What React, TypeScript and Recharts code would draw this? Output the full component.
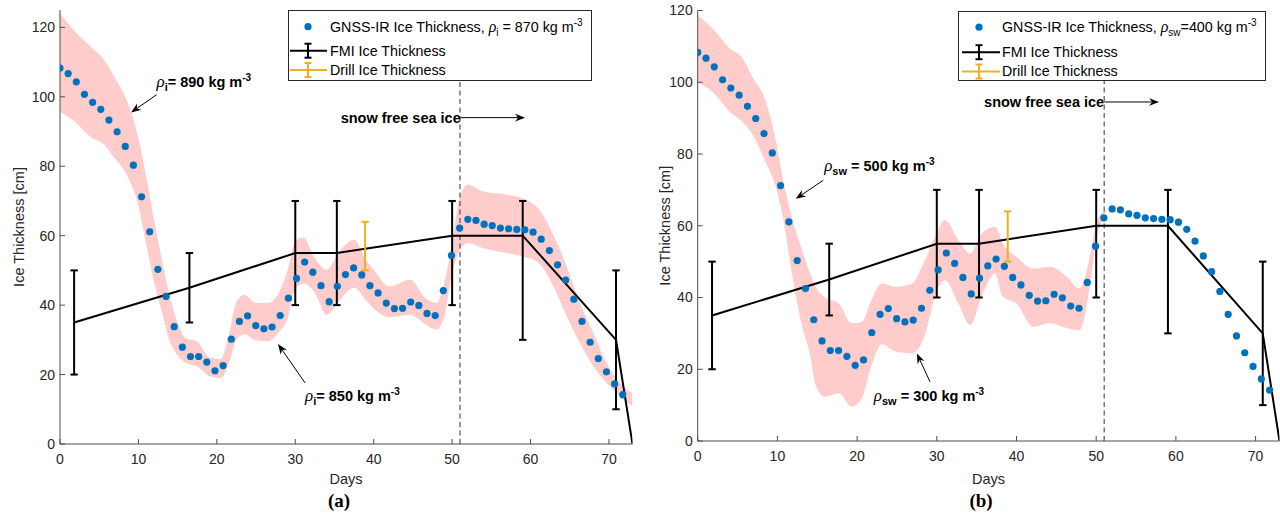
import React from 'react';
import {
  ComposedChart,
  Area,
  Line,
  Scatter,
  XAxis,
  YAxis,
  ErrorBar,
  ReferenceLine,
  ReferenceDot,
} from 'recharts';

const SANS = '"Liberation Sans", Arial, Helvetica, sans-serif';
const SERIF = '"Liberation Serif", "Times New Roman", serif';
const BLUE = '#0072BD';
const ORANGE = '#EDB120';
const PINK = '#FFCCCC';
const AXIS = '#4d4d4d';
const TICK = '#262626';

// axis ticks
const dayTicks = [0, 10, 20, 30, 40, 50, 60, 70];
const thicknessTicks = [0, 20, 40, 60, 80, 100, 120];

// GNSS-IR ice thickness (same retrieval in both panels)
const gnssDays = [
  0, 1.04, 2.08, 3.12, 4.16, 5.2, 6.24, 7.28, 8.32, 9.36,
  10.4, 11.44, 12.48, 13.52, 14.56, 15.6, 16.64, 17.68, 18.72, 19.76,
  20.8, 21.84, 22.88, 23.92, 24.96, 26, 27.04, 28.08, 29.12, 30.16,
  31.2, 32.24, 33.28, 34.32, 35.36, 36.4, 37.44, 38.48, 39.52, 40.56,
  41.6, 42.64, 43.68, 44.72, 45.76, 46.8, 47.84, 48.88, 49.92, 50.96,
  52, 53.04, 54.08, 55.12, 56.16, 57.2, 58.24, 59.28, 60.32, 61.36,
  62.4, 63.44, 64.48, 65.52, 66.56, 67.6, 68.64, 69.68, 70.72, 71.76,
];
const gnssThickness = [
  108.3, 106.7, 104.3, 100.7, 98.4, 96.4, 93.3, 89.9, 85.7, 80.3,
  71.2, 61.1, 50.3, 42.5, 33.8, 27.9, 25.2, 25.2, 23.6, 21.1,
  22.6, 30.2, 35.3, 36.9, 34.1, 33.2, 33.7, 37.0, 42.0, 47.7,
  52.4, 49.5, 45.6, 41.0, 45.4, 48.8, 50.7, 48.7, 45.6, 43.5,
  40.6, 39.0, 39.1, 40.9, 39.9, 37.6, 37.0, 44.2, 54.3, 62.2,
  64.7, 64.4, 63.3, 62.9, 62.2, 62.0, 61.8, 61.7, 61.0, 59.0,
  55.7, 51.6, 47.2, 41.7, 35.3, 29.3, 24.6, 20.8, 17.3, 14.2,
];

// FMI ice thickness with (below, above) errors
const fmiDays = [1.8, 16.5, 30, 35.3, 50, 59, 70.9, 73];
const fmiThickness = [35, 45, 55, 55, 60, 60, 30, 0];
const fmiErrBelow = [15, 10, 15, 15, 20, 30, 20, null];
const fmiErrAbove = [15, 10, 15, 15, 10, 10, 20, null];

// drill hole
const drillDays = [38.9];
const drillThickness = [57];
const drillErr = [7];

// (a) ice density range 850 - 890 kg m-3
const iceBandDays = [
  0, 2, 4, 5.5, 7, 8.5, 10, 11, 12, 13,
  14, 15, 16, 17.5, 19, 20.5, 21.5, 22.5, 23.5, 25,
  26.5, 28, 29, 30, 31, 32.5, 34, 35.5, 37.5, 39,
  40, 42, 44.7, 46.4, 48, 49, 50, 51, 52, 54,
  57, 59, 61, 63, 64.6, 66.3, 68, 69.7, 71.4, 73,
];
const iceBandUpper = [
  124, 118.6, 114.3, 111, 105.5, 99, 88, 77, 64.5, 53,
  42.5, 35, 30.5, 29.5, 25, 24.5, 31, 41, 43, 40.6,
  40.6, 44, 50, 58.5, 59.5, 53.5, 50.2, 55, 58.8, 53,
  50.2, 45.4, 47.3, 42.5, 40.6, 46.4, 57.9, 71.3, 74.7, 72.7,
  71.8, 70.8, 67.8, 59.8, 51.2, 40.6, 32, 23.3, 17.6, 14.7,
];
const iceBandLower = [
  95.8, 92.6, 88.3, 86.5, 82.2, 77.5, 68.5, 57.5, 46.5, 38,
  29.5, 25.5, 23.4, 22.3, 19.6, 19, 23, 30, 31.6, 29.8,
  29.6, 32.5, 36, 44.7, 46.2, 43.5, 37.2, 41, 45, 41.5,
  39, 36.5, 37.2, 34.8, 33, 36.5, 49.2, 56, 57.9, 56.4,
  55, 54, 52.2, 45, 36.8, 29, 22.4, 17.6, 13.7, 10.8,
];

// (b) snow density range 300 - 500 kg m-3
const snowBandDays = [
  0, 2, 4, 5.5, 7, 8.5, 9.7, 10.8, 11.8, 13.1,
  14.1, 14.8, 16, 17.7, 19.3, 20.6, 21.8, 23.1, 24.8, 26.9,
  28.5, 29.8, 31, 32.7, 34.2, 35.6, 37.3, 38.3, 40, 42.1,
  44.2, 46.3, 47.9, 49.2, 50, 51.1,
];
const snowBandUpper = [
  118.7, 114.7, 109.5, 107, 101, 95, 84.8, 71.8, 62.5, 53.2,
  46.7, 43, 40, 38.3, 32.8, 33.2, 39.3, 43.9, 43, 43.9,
  50.4, 56.9, 61.6, 56, 52.3, 57.8, 59.7, 55, 51.3, 48.1,
  48.6, 45.8, 42.5, 51.3, 60.6, 64.3,
];
const snowBandLower = [
  100, 97, 91.8, 89.2, 85, 77.8, 71.5, 61, 47, 32,
  24, 15.5, 12.3, 13.3, 9.6, 12, 21, 27, 25, 24.4,
  29.5, 40.5, 44.8, 38.3, 32.3, 40.2, 46.7, 40.2, 38.3, 31.8,
  32.8, 31.5, 30.9, 43, 56, 62.5,
];

const snowFreeDay = 51;

const gnssData = gnssDays.map((d, i) => ({ day: d, thickness: gnssThickness[i] }));
const fmiData = fmiDays.map((d, i) => ({
  day: d,
  thickness: fmiThickness[i],
  err: fmiErrBelow[i] == null ? null : [fmiErrBelow[i], fmiErrAbove[i]],
}));
const drillData = drillDays.map((d, i) => ({ day: d, thickness: drillThickness[i], err: drillErr[i] }));
const iceBand = iceBandDays.map((d, i) => ({ day: d, range: [iceBandLower[i], iceBandUpper[i]] }));
const snowBand = snowBandDays.map((d, i) => ({ day: d, range: [snowBandLower[i], snowBandUpper[i]] }));

const arrowShape = (p: any) => {
  const { x1, y1, x2, y2 } = p;
  const a = Math.atan2(y2 - y1, x2 - x1);
  const ux = Math.cos(a), uy = Math.sin(a);
  const nx = -uy, ny = ux;
  const L = 10, W = 3.8, N = 7;
  const pts = [
    [x2, y2],
    [x2 - L * ux + W * nx, y2 - L * uy + W * ny],
    [x2 - N * ux, y2 - N * uy],
    [x2 - L * ux - W * nx, y2 - L * uy - W * ny],
  ];
  return (
    <g>
      <line x1={x1} y1={y1} x2={x2 - N * ux} y2={y2 - N * uy} stroke="#000" strokeWidth={1} />
      <polygon points={pts.map((q) => q.join(',')).join(' ')} fill="#000" />
    </g>
  );
};

const NOTE_SIZE = 14.5;

const rhoNote = (sub: string, text: string) => (p: any) => (
  <text x={p.cx} y={p.cy + 5} fontFamily={SANS} fontSize={NOTE_SIZE} fontWeight="bold" fill="#000">
    <tspan fontFamily={SERIF} fontStyle="italic" fontWeight="normal" fontSize={17}>ρ</tspan>
    <tspan fontSize={11} dy={4}>{sub}</tspan>
    <tspan dy={-4}>{text}</tspan>
    <tspan fontSize={10} dy={-6}>-3</tspan>
  </text>
);

const snowFreeNote = (p: any) => (
  <text x={p.cx} y={p.cy + 5} textAnchor="end" fontFamily={SANS} fontSize={NOTE_SIZE} fontWeight="bold" fill="#000">
    snow free sea ice
  </text>
);

type Note = { sub: string; text: string; at: [number, number]; from: [number, number]; to: [number, number] };

type PanelProps = {
  left: number;
  letter: string;
  yMax: number;
  margin: { top: number; right: number; bottom: number; left: number };
  yAxisWidth: number;
  band: { day: number; range: number[] }[];
  yTitleX: number;
  titleX: number;
  letterX: number;
  notes: Note[];
  snowFree: { at: [number, number]; to: number };
  legend: {
    left: number; top: number; width: number; height: number;
    markerX: number; iconL: number; iconR: number; textLeft: number; rows: number[];
    sub: string; eq: string;
  };
};

const X_AXIS_H = 30;

const Panel = ({ left, letter, yMax, margin, yAxisWidth, band, yTitleX, titleX, letterX, notes, snowFree, legend }: PanelProps) => {
  const plotTop = margin.top;
  const plotBottom = 516 - margin.bottom - X_AXIS_H;
  const midY = (plotTop + plotBottom) / 2;
  const lg = legend;
  return (
    <div style={{ position: 'absolute', left, top: 0, width: 640, height: 516 }}>
      <ComposedChart width={640} height={516} margin={margin}>
        <XAxis
          dataKey="day"
          type="number"
          domain={[0, 73]}
          ticks={dayTicks}
          interval={0}
          allowDataOverflow
          height={X_AXIS_H}
          tickSize={-5}
          tickMargin={15}
          stroke={AXIS}
          tick={{ fill: TICK, fontSize: 14, fontFamily: SANS }}
          label={() => (
            <g>
              <text x={titleX} y={479} textAnchor="middle" dy="0.35em" fontFamily={SANS} fontSize={14.5} fill={TICK}>
                Days
              </text>
              <text x={letterX} y={500} textAnchor="middle" dy="0.35em" fontFamily={SERIF} fontWeight="bold" fontSize={19} fill="#000">
                ({letter})
              </text>
            </g>
          )}
        />
        <XAxis
          xAxisId="top"
          orientation="top"
          type="number"
          domain={[0, 73]}
          ticks={dayTicks}
          interval={0}
          allowDataOverflow
          height={0}
          tickSize={-5}
          tick={false}
          stroke={AXIS}
        />
        <YAxis
          type="number"
          domain={[0, yMax]}
          ticks={thicknessTicks}
          interval={0}
          allowDataOverflow
          width={yAxisWidth}
          tickSize={-5}
          tickMargin={10}
          stroke={AXIS}
          tick={{ fill: TICK, fontSize: 14, fontFamily: SANS }}
          label={() => (
            <text
              x={yTitleX}
              y={midY}
              transform={`rotate(-90 ${yTitleX} ${midY})`}
              textAnchor="middle"
              dy="0.35em"
              fontFamily={SANS}
              fontSize={14.5}
              fill={TICK}
            >
              Ice Thickness [cm]
            </text>
          )}
        />
        <YAxis
          yAxisId="right"
          orientation="right"
          type="number"
          domain={[0, yMax]}
          ticks={thicknessTicks}
          interval={0}
          allowDataOverflow
          width={0}
          tickSize={-5}
          tick={false}
          stroke={AXIS}
        />

        <Area
          data={band}
          dataKey="range"
          type="monotone"
          stroke="none"
          fill={PINK}
          fillOpacity={1}
          isAnimationActive={false}
        />
        <ReferenceLine x={snowFreeDay} stroke="#333" strokeWidth={1} strokeDasharray="5 3.5" />

        <Line
          data={fmiData}
          dataKey="thickness"
          type="linear"
          stroke="#000"
          strokeWidth={2}
          dot={false}
          isAnimationActive={false}
        >
          <ErrorBar dataKey="err" direction="y" width={3.7} stroke="#000" strokeWidth={2} isAnimationActive={false} />
        </Line>
        <Scatter data={drillData} dataKey="thickness" shape={() => <g />} isAnimationActive={false}>
          <ErrorBar dataKey="err" direction="y" width={3.7} stroke={ORANGE} strokeWidth={2} isAnimationActive={false} />
        </Scatter>
        <Scatter
          data={gnssData}
          dataKey="thickness"
          isAnimationActive={false}
          shape={(p: any) => <circle cx={p.cx} cy={p.cy} r={3.6} fill={BLUE} />}
        />

        <ReferenceDot x={snowFree.at[0]} y={snowFree.at[1]} r={0} ifOverflow="visible" shape={snowFreeNote} />
        <ReferenceLine
          segment={[{ x: snowFree.at[0], y: snowFree.at[1] }, { x: snowFree.to, y: snowFree.at[1] }]}
          ifOverflow="visible"
          shape={arrowShape}
        />
        {notes.map((n, i) => (
          <ReferenceDot key={`t${i}`} x={n.at[0]} y={n.at[1]} r={0} ifOverflow="visible" shape={rhoNote(n.sub, n.text)} />
        ))}
        {notes.map((n, i) => (
          <ReferenceLine
            key={`a${i}`}
            segment={[{ x: n.from[0], y: n.from[1] }, { x: n.to[0], y: n.to[1] }]}
            ifOverflow="visible"
            shape={arrowShape}
          />
        ))}
      </ComposedChart>

      <div
        style={{
          position: 'absolute',
          left: lg.left,
          top: lg.top,
          width: lg.width,
          height: lg.height,
          boxSizing: 'border-box',
          border: '1px solid #262626',
          background: '#fff',
          fontFamily: SANS,
          fontSize: 14.3,
          color: '#000',
        }}
      >
        <svg width={lg.width} height={lg.height} style={{ position: 'absolute', left: -1, top: -1 }}>
          <circle cx={lg.markerX} cy={lg.rows[0]} r={3.6} fill={BLUE} />
          <line x1={lg.iconL} x2={lg.iconR} y1={lg.rows[1]} y2={lg.rows[1]} stroke="#000" strokeWidth={2} />
          <line x1={lg.markerX} x2={lg.markerX} y1={lg.rows[1] - 7} y2={lg.rows[1] + 7} stroke="#000" strokeWidth={2} />
          <line x1={lg.markerX - 3.5} x2={lg.markerX + 3.5} y1={lg.rows[1] - 7} y2={lg.rows[1] - 7} stroke="#000" strokeWidth={2} />
          <line x1={lg.markerX - 3.5} x2={lg.markerX + 3.5} y1={lg.rows[1] + 7} y2={lg.rows[1] + 7} stroke="#000" strokeWidth={2} />
          <line x1={lg.iconL} x2={lg.iconR} y1={lg.rows[2]} y2={lg.rows[2]} stroke={ORANGE} strokeWidth={2} />
          <line x1={lg.markerX} x2={lg.markerX} y1={lg.rows[2] - 7} y2={lg.rows[2] + 7} stroke={ORANGE} strokeWidth={2} />
          <line x1={lg.markerX - 3.5} x2={lg.markerX + 3.5} y1={lg.rows[2] - 7} y2={lg.rows[2] - 7} stroke={ORANGE} strokeWidth={2} />
          <line x1={lg.markerX - 3.5} x2={lg.markerX + 3.5} y1={lg.rows[2] + 7} y2={lg.rows[2] + 7} stroke={ORANGE} strokeWidth={2} />
        </svg>
        <div style={{ position: 'absolute', left: lg.textLeft - 1, top: lg.rows[0] - 10, lineHeight: '18px', whiteSpace: 'nowrap' }}>
          {'GNSS-IR Ice Thickness, '}
          <span style={{ fontFamily: SERIF, fontStyle: 'italic', fontSize: 16 }}>ρ</span>
          <span style={{ fontSize: 10, position: 'relative', top: 4 }}>{lg.sub}</span>
          {lg.eq}
          <span style={{ fontSize: 10, position: 'relative', top: -6 }}>-3</span>
        </div>
        <div style={{ position: 'absolute', left: lg.textLeft - 1, top: lg.rows[1] - 10, lineHeight: '18px', whiteSpace: 'nowrap' }}>
          FMI Ice Thickness
        </div>
        <div style={{ position: 'absolute', left: lg.textLeft - 1, top: lg.rows[2] - 10, lineHeight: '18px', whiteSpace: 'nowrap' }}>
          Drill Ice Thickness
        </div>
      </div>
    </div>
  );
};

export default function App() {
  return (
    <div style={{ position: 'absolute', left: 0, top: 0, width: 1280, height: 516, background: '#fff', overflow: 'hidden' }}>
      <Panel
        left={0}
        letter="a"
        yMax={125}
        margin={{ top: 10, right: 7.5, bottom: 42, left: 0 }}
        yAxisWidth={60}
        band={iceBand}
        yTitleX={19}
        titleX={346}
        letterX={339}
        notes={[
          { sub: 'i', text: '= 890 kg m', at: [12.3, 104.4], from: [12.33, 100.6], to: [9.06, 95.5] },
          { sub: 'i', text: '= 850 kg m', at: [31.25, 13.7], from: [31.25, 17.6], to: [27.8, 28.8] },
        ]}
        snowFree={{ at: [51.1, 94], to: 59.3 }}
        legend={{
          left: 288, top: 10, width: 304, height: 71,
          markerX: 20, iconL: 2, iconR: 39, textLeft: 42, rows: [16.7, 40.7, 60],
          sub: 'i', eq: ' = 870 kg m',
        }}
      />
      <Panel
        left={640}
        letter="b"
        yMax={120}
        margin={{ top: 10.5, right: 0.5, bottom: 45, left: 0 }}
        yAxisWidth={57.7}
        band={snowBand}
        yTitleX={25}
        titleX={348.6}
        letterX={341}
        notes={[
          { sub: 'sw', text: ' = 500 kg m', at: [15.87, 76.6], from: [15.77, 72.7], to: [12.3, 67.5] },
          { sub: 'sw', text: ' = 300 kg m', at: [22.1, 12.5], from: [29.15, 16.5], to: [27.5, 24.4] },
        ]}
        snowFree={{ at: [51.0, 94.5], to: 57.9 }}
        legend={{
          left: 318, top: 10.5, width: 308, height: 70,
          markerX: 21, iconL: 4, iconR: 42, textLeft: 44, rows: [16.2, 41.2, 60.5],
          sub: 'sw', eq: '=400 kg m',
        }}
      />
    </div>
  );
}
